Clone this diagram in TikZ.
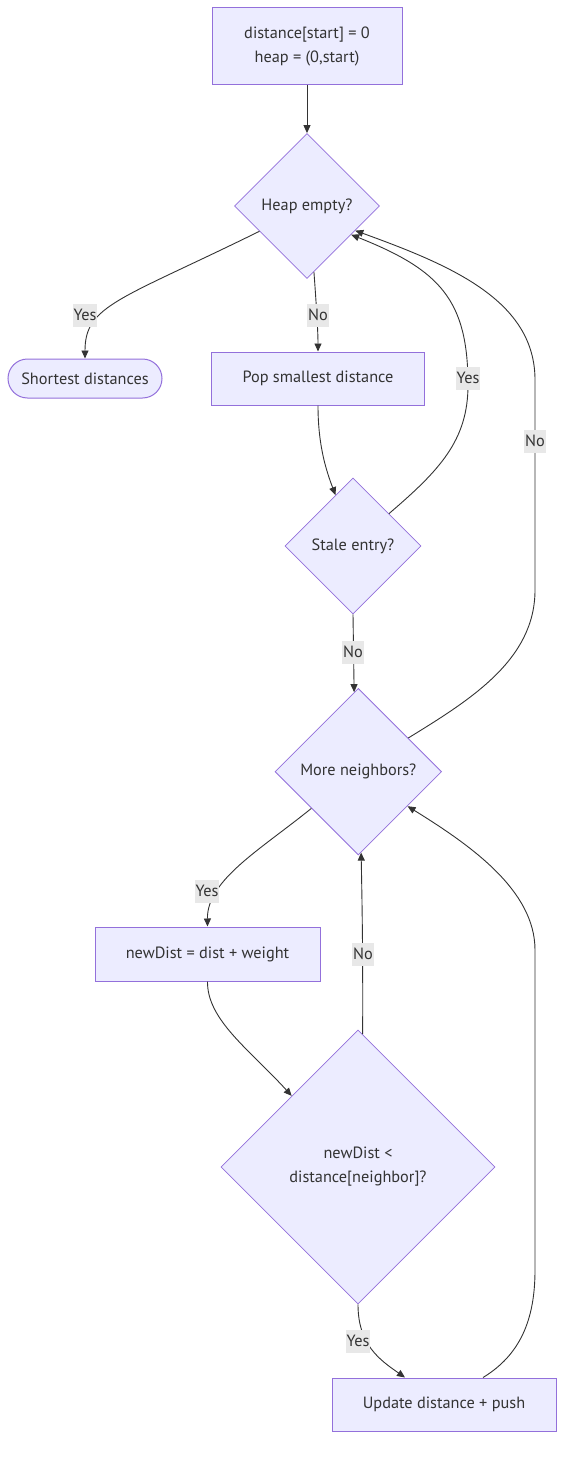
\documentclass[tikz,border=0pt]{standalone}
\usepackage{fontspec}
\setmainfont{PT Sans}
\usetikzlibrary{shapes.geometric,arrows.meta}
\definecolor{nodefill}{HTML}{ECECFF}
\definecolor{nodeline}{HTML}{9370DB}
\definecolor{edgecol}{HTML}{333333}
\definecolor{lblbg}{HTML}{E8E8E8}
\definecolor{txt}{HTML}{333333}
\begin{document}
\begin{tikzpicture}[x=1pt,y=-1pt,
  every node/.style={font=\fontsize{16.3}{24}\selectfont, text=txt},
  box/.style={draw=nodeline, fill=nodefill, line width=1pt, rectangle, inner sep=0pt, align=center},
  term/.style={draw=nodeline, fill=nodefill, line width=1pt, rectangle, rounded corners=19.5pt, inner sep=0pt},
  dia/.style={draw=nodeline, fill=nodefill, line width=0.8pt, diamond, aspect=1, inner sep=0pt, align=center},
  edge/.style={draw=edgecol, line width=0.9pt, -{Triangle[length=8pt,width=7pt]}},
  lbl/.style={fill=lblbg, inner xsep=1pt, inner ysep=0pt, minimum height=23pt}
]
\useasboundingbox (0,0) rectangle (572,1458);
% nodes
\node[box, minimum width=190pt, minimum height=77pt] (init) at (307,46) {distance[start] = 0\\heap = (0,start)};
\node[dia, minimum size=145pt] (heap) at (307,206) {Heap empty?};
\node[term, minimum width=154pt, minimum height=39pt] (short) at (85,378.5) {Shortest distances};
\node[box, minimum width=213pt, minimum height=53pt] (pop) at (318,378.5) {Pop smallest distance};
\node[dia, minimum size=136pt] (stale) at (353,546) {Stale entry?};
\node[dia, minimum size=166.6pt] (more) at (358.3,771.7) {More neighbors?};
\node[box, minimum width=225pt, minimum height=54pt] (newd) at (207.5,954) {newDist = dist + weight};
\node[dia, minimum size=274pt] (cond) at (358,1167) {newDist <\\distance[neighbor]?};
\node[box, minimum width=224pt, minimum height=53pt] (upd) at (444,1404.5) {Update distance + push};
% edges
\draw[edge] (init.south) -- (heap.north);
\draw[edge] (heap.208) .. controls (120,300) and (85,305) .. (short.north);
\draw[edge] (heap.-84) .. controls (316,300) and (318,330) .. (pop.north);
\draw[edge] (pop.south) .. controls (318,445) and (326,470) .. (stale.109);
\draw[edge] (stale.42) .. controls (440,470) and (468,440) .. (468,385)
   .. controls (468,300) and (440,270) .. (heap.-33);
\draw[edge] (more.34) .. controls (470,700) and (535,660) .. (535,590) -- (535,380)
   .. controls (535,300) and (450,265) .. (heap.-27);
\draw[edge] (stale.south) -- (more.93);
\draw[edge] (more.218) .. controls (260,850) and (207,880) .. (newd.north);
\draw[edge] (newd.south) .. controls (207,1020) and (250,1050) .. (cond.133);
\draw[edge] (cond.88) .. controls (363,950) and (362,900) .. (more.-88);
\draw[edge] (cond.south) .. controls (358,1345) and (380,1360) .. (upd.north -| 405,0);
\draw[edge] (upd.north -| 483,0) .. controls (520,1355) and (535,1320) .. (535,1270) -- (535,950)
   .. controls (535,890) and (470,845) .. (more.-35);
% labels
\node[lbl] (l1) at (85,315) {Yes};
\node[lbl] (l2) at (318,315) {No};
\node[lbl] (l3) at (468,378) {Yes};
\node[lbl] (l4) at (535,441) {No};
\node[lbl] (l5) at (353,652) {No};
\node[lbl] (l6) at (207,891) {Yes};
\node[lbl] (l7) at (363,954) {No};
\node[lbl] (l8) at (358,1341) {Yes};
\end{tikzpicture}
\end{document}
